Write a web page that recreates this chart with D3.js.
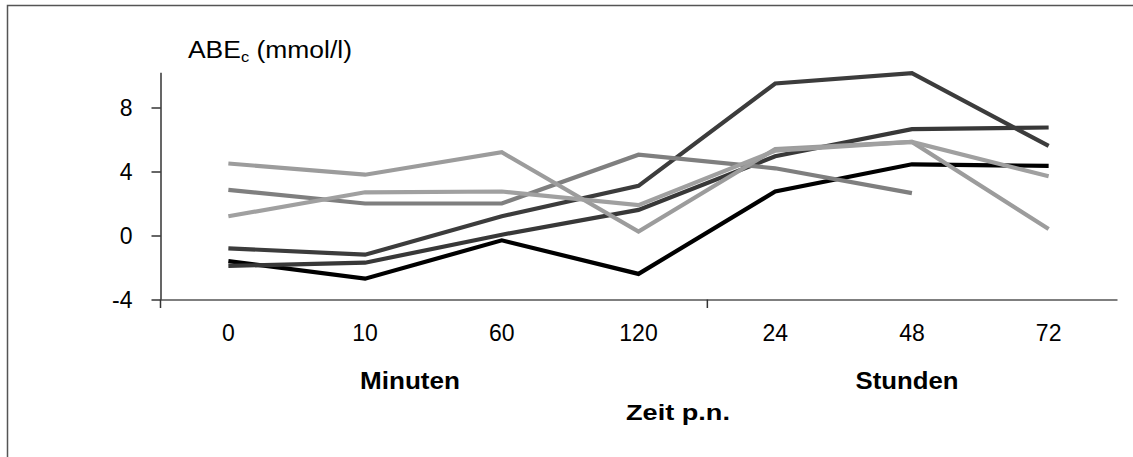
<!DOCTYPE html>
<html>
<head>
<meta charset="utf-8">
<script src="https://cdn.jsdelivr.net/npm/d3@7"></script>
<style>
  html, body { margin: 0; padding: 0; background: #fff; }
  svg { display: block; }
  text { font-family: "Liberation Sans", Arial, sans-serif; fill: #000; }
</style>
</head>
<body>
<svg id="chart" width="1133" height="457"></svg>
<script>
// Time points after birth: minutes (0–120) then hours (24–72)
const categories = ["0", "10", "60", "120", "24", "48", "72"];
const yTicks = [-4, 0, 4, 8];

// ABEc (mmol/l) per animal
const animal1 = [-1.6, -2.7, -0.3, -2.4, 2.75, 4.45, 4.35];
const animal2 = [-1.9, -1.7, 0.05, 1.6, 4.95, 6.65, 6.75];
const animal3 = [-0.8, -1.2, 1.2, 3.1, 9.5, 10.15, 5.6];
const animal4 = [2.85, 2.0, 2.0, 5.05, 4.2, 2.65, null];
const animal5 = [4.5, 3.8, 5.2, 0.25, 5.4, 5.85, 0.4];
const animal6 = [1.2, 2.7, 2.75, 1.9, 5.3, 5.85, 3.7];

const seriesList = [animal1, animal2, animal3, animal4, animal5, animal6];
const seriesColors = ["#000000", "#383838", "#3c3c3c", "#7f7f7f", "#9c9c9c", "#a0a0a0"];

const svg = d3.select("#chart");

// outer frame
svg.append("path")
  .attr("d", "M7.5,460 V5.5 H1140")
  .attr("fill", "none")
  .attr("stroke", "#555")
  .attr("stroke-width", 1.5);

const x = d3.scaleBand().domain(categories).range([160, 1117]).padding(0);
const y = d3.scaleLinear().domain([-4, 10.2]).range([299.5, 72.3]);
const cx = c => x(c) + x.bandwidth() / 2;

// y axis
const yAxis = svg.append("g")
  .attr("transform", "translate(160.5,0)")
  .call(d3.axisLeft(y).tickValues(yTicks).tickSize(9).tickSizeOuter(0).tickPadding(19)
    .tickFormat(d => String(d)));
yAxis.select(".domain").attr("stroke", "#000").attr("stroke-width", 1.2);
yAxis.selectAll(".tick line").attr("stroke", "#000").attr("stroke-width", 1.2);
yAxis.selectAll(".tick text")
  .style("font-family", "'Liberation Sans', Arial, sans-serif")
  .style("font-size", "23px")
  .attr("dy", "0.36em");

// x axis with category labels at the band centres
const xAxis = svg.append("g")
  .attr("transform", "translate(0,299.5)")
  .call(d3.axisBottom(x).tickSize(0).tickSizeOuter(0).tickPadding(25));
xAxis.select(".domain").attr("stroke", "#555").attr("stroke-width", 1.5);
xAxis.selectAll(".tick text")
  .style("font-family", "'Liberation Sans', Arial, sans-serif")
  .style("font-size", "23px");

// divider ticks at the start of each time group
svg.append("g").selectAll("line")
  .data([categories[0], categories[4]])
  .join("line")
  .attr("x1", d => x(d) + 0.5).attr("x2", d => x(d) + 0.5)
  .attr("y1", 299.5).attr("y2", 308)
  .attr("stroke", "#333").attr("stroke-width", 1.5);

// data lines
const line = d3.line()
  .defined(d => d.v != null)
  .x(d => cx(d.c))
  .y(d => y(d.v));

svg.append("g").selectAll("path")
  .data(seriesList.map((vals, i) => ({ vals: vals.map((v, j) => ({ c: categories[j], v })), color: seriesColors[i] })))
  .join("path")
  .attr("d", d => line(d.vals))
  .attr("fill", "none")
  .attr("stroke", d => d.color)
  .attr("stroke-width", 4.2)
  .attr("stroke-linejoin", "miter");

// y axis title with subscript
const title = svg.append("text")
  .attr("x", 188).attr("y", 58)
  .style("font-size", "24px");
title.append("tspan").text("ABE");
title.append("tspan").text("c").style("font-size", "15px").attr("dy", "4");
title.append("tspan").text(" (mmol/l)").attr("dy", "-4");
const tw = title.node().getComputedTextLength();
title.attr("transform", `translate(188,0) scale(${164 / tw},1) translate(-188,0)`);

// group and axis titles, stretched to the reference widths
function boldLabel(txt, cxPos, yPos, width) {
  const t = svg.append("text").attr("x", cxPos).attr("y", yPos).attr("text-anchor", "middle")
    .style("font-size", "23px").style("font-weight", "bold").text(txt);
  const w = t.node().getComputedTextLength();
  t.attr("transform", `translate(${cxPos},0) scale(${width / w},1) translate(${-cxPos},0)`);
}
boldLabel("Minuten", 410, 389, 100);
boldLabel("Stunden", 907, 389, 103);
boldLabel("Zeit p.n.", 678, 420, 104);
</script>
</body>
</html>
